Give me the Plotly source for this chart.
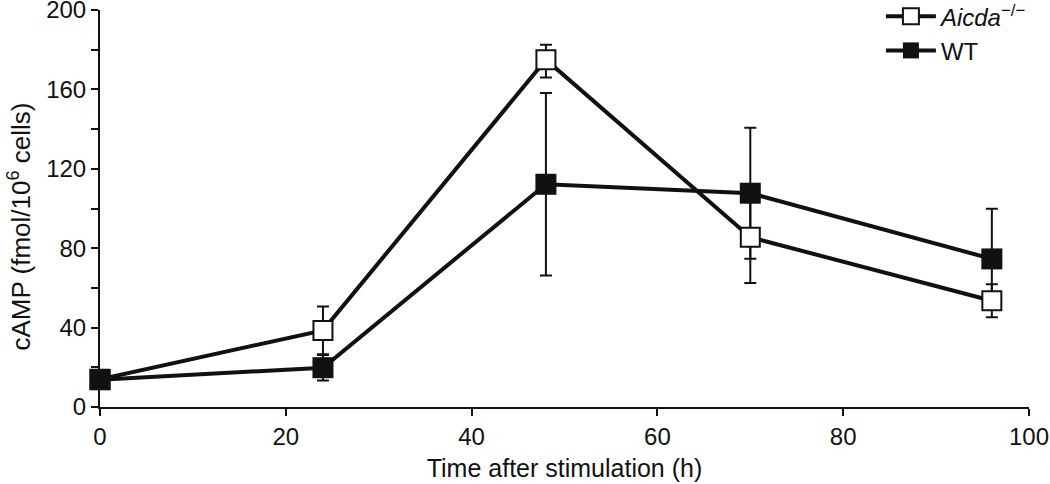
import plotly.graph_objects as go

time_h = [0, 24, 48, 70, 96]
aicda_mean = [14, 38.6, 175, 85.5, 53.5]
aicda_err_plus = [0, 12, 7.5, 23, 8.3]
aicda_err_minus = [0, 12, 9, 23, 8.3]
wt_mean = [13.7, 19.8, 112.2, 107.7, 74.6]
wt_err = [0, 6.4, 46, 33, 25.3]

y_tickvals = [0, 20, 40, 60, 80, 100, 120, 140, 160, 180, 200]
y_ticktext = ["0", "", "40", "", "80", "", "120", "", "160", "", "200"]
x_tickvals = [0, 20, 40, 60, 80, 100]

FONT = "Liberation Sans, Arial, Helvetica, sans-serif"
BLACK = "#111111"

fig = go.Figure()

# error bars (drawn below lines and markers)
fig.add_trace(go.Scatter(
    x=time_h, y=aicda_mean, mode="markers",
    marker=dict(size=1, color="rgba(0,0,0,0)"),
    error_y=dict(type="data", symmetric=False, array=aicda_err_plus,
                 arrayminus=aicda_err_minus, color=BLACK, thickness=2, width=6),
    showlegend=False, hoverinfo="skip", cliponaxis=False))
fig.add_trace(go.Scatter(
    x=time_h, y=wt_mean, mode="markers",
    marker=dict(size=1, color="rgba(0,0,0,0)"),
    error_y=dict(type="data", array=wt_err, color=BLACK, thickness=2, width=6),
    showlegend=False, hoverinfo="skip", cliponaxis=False))

fig.add_trace(go.Scatter(
    x=time_h, y=aicda_mean, mode="lines+markers",
    name="<i>Aicda</i><sup>−/−</sup>",
    line=dict(color=BLACK, width=4),
    marker=dict(symbol="square", size=19, color="white",
                line=dict(color=BLACK, width=2)),
    cliponaxis=False))
fig.add_trace(go.Scatter(
    x=time_h, y=wt_mean, mode="lines+markers", name="WT",
    line=dict(color=BLACK, width=4),
    marker=dict(symbol="square", size=21, color=BLACK,
                line=dict(color=BLACK, width=0)),
    cliponaxis=False))

axis_common = dict(showline=True, linecolor=BLACK, linewidth=2,
                   ticks="outside", ticklen=7, tickwidth=2, tickcolor=BLACK,
                   showgrid=False, zeroline=False, automargin=False,
                   ticklabeloverflow="allow",
                   tickfont=dict(family=FONT, size=24, color=BLACK))

fig.update_layout(
    template="none",
    width=1050, height=484,
    margin=dict(l=100, r=21, t=10, b=77, pad=0, autoexpand=False),
    paper_bgcolor="white", plot_bgcolor="white",
    font=dict(family=FONT, size=24, color=BLACK),
    xaxis=dict(range=[0, 100], tickmode="array", tickvals=x_tickvals,
               title=dict(text="Time after stimulation (h)",
                          font=dict(family=FONT, size=25, color=BLACK),
                          standoff=11),
               **axis_common),
    yaxis=dict(range=[0, 200], tickmode="array", tickvals=y_tickvals,
               ticktext=y_ticktext, **axis_common),
    legend=dict(x=0.8406, y=1.04, xanchor="left", yanchor="top",
                bgcolor="rgba(0,0,0,0)", font=dict(family=FONT, size=24, color=BLACK),
                itemsizing="trace", tracegroupgap=0, itemwidth=50),
    annotations=[dict(text="cAMP (fmol/10<sup>6</sup> cells)", textangle=-90,
                      xref="paper", yref="paper", x=-0.087, y=0.455,
                      xanchor="center", yanchor="middle", showarrow=False,
                      font=dict(family=FONT, size=26, color=BLACK))],
)

fig.write_html("out.html", config={"displayModeBar": False},
               post_script="document.body.style.margin='0';")
